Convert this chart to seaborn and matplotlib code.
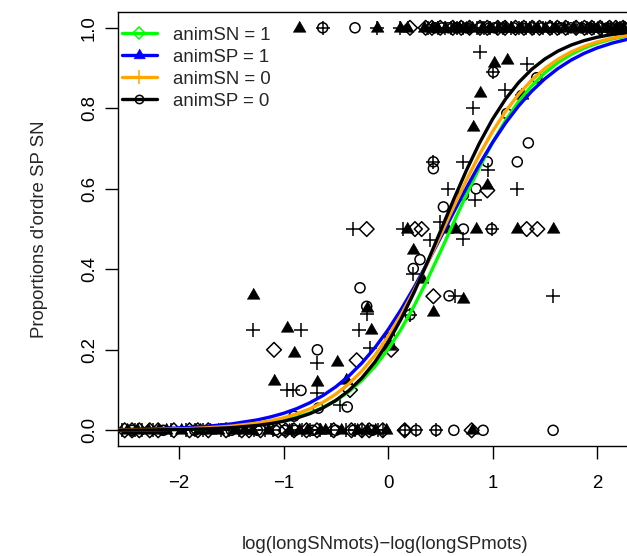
import matplotlib
matplotlib.use("Agg")
import matplotlib.pyplot as plt
from matplotlib.lines import Line2D
import seaborn as sns
import pandas as pd

sns.set_style("ticks")
plt.rcParams['font.family'] = ['Liberation Sans', 'DejaVu Sans']
plt.rcParams['axes.unicode_minus'] = True

# Courbes logistiques
curve_x = [-2.6, -2.25, -2.0, -1.75, -1.5, -1.25, -1.125, -1.0, -0.875, -0.75, -0.625,
           -0.5, -0.375, -0.25, -0.125, 0.0, 0.125, 0.25, 0.375, 0.5, 0.625, 0.75,
           0.875, 1.0, 1.125, 1.25, 1.375, 1.5, 1.625, 1.75, 1.875, 2.0, 2.15, 2.3]
curve_sn1 = [0.0006, 0.0014, 0.0025, 0.0045, 0.0079, 0.0140, 0.0186, 0.0246, 0.0325,
             0.0429, 0.0564, 0.0738, 0.0960, 0.1240, 0.1588, 0.2010, 0.2511, 0.3090,
             0.3734, 0.4427, 0.5144, 0.5854, 0.6530, 0.7150, 0.7699, 0.8168, 0.8560,
             0.8880, 0.9135, 0.9337, 0.9494, 0.9616, 0.9725, 0.9804]
curve_sp1 = [0.0017, 0.0035, 0.0058, 0.0096, 0.0158, 0.0259, 0.0332, 0.0422, 0.0537,
             0.0681, 0.0860, 0.1080, 0.1349, 0.1672, 0.2054, 0.2496, 0.3001, 0.3553,
             0.4151, 0.4773, 0.5403, 0.6021, 0.6608, 0.7148, 0.7635, 0.8060, 0.8425,
             0.8731, 0.8986, 0.9194, 0.9363, 0.9498, 0.9624, 0.9719]
curve_sn0 = [0.0009, 0.0019, 0.0034, 0.0059, 0.0103, 0.0179, 0.0236, 0.0310, 0.0407,
             0.0531, 0.0692, 0.0897, 0.1155, 0.1474, 0.1863, 0.2328, 0.2868, 0.3475,
             0.4136, 0.4831, 0.5533, 0.6213, 0.6849, 0.7422, 0.7923, 0.8348, 0.8700,
             0.8987, 0.9216, 0.9397, 0.9537, 0.9647, 0.9745, 0.9817]
curve_sp0 = [0.0004, 0.0010, 0.0019, 0.0035, 0.0065, 0.0121, 0.0165, 0.0224, 0.0304,
             0.0411, 0.0554, 0.0741, 0.0986, 0.1301, 0.1697, 0.2184, 0.2764, 0.3430,
             0.4164, 0.4938, 0.5714, 0.6457, 0.7135, 0.7729, 0.8231, 0.8641, 0.8969,
             0.9223, 0.9420, 0.9569, 0.9681, 0.9765, 0.9837, 0.9887]

# Points : losanges (animSN = 1)
diam_x = [-0.204, 0.258, 0.322, 1.327, 1.429, -1.091, -0.30, -0.364, 0.03, 0.434, 0.95]
diam_y = [0.5, 0.5, 0.5, 0.5, 0.5, 0.2, 0.174, 0.10, 0.20, 0.333, 0.596]
diam_x0 = [-2.52, -2.45, -2.38, -2.28, -2.2, -2.05, -1.9, -1.82, -1.72, -1.55, -1.4,
           -1.33, -1.22, -1.05, -0.98, -0.9, -0.78, -0.68, -0.52, -0.35, -0.25, -0.18,
           -0.05, 0.16, 0.8]
diam_x1 = [0.21, 0.36, 0.42, 0.5, 0.62, 0.7, 0.78, 0.88, 0.95, 1.05, 1.12, 1.22, 1.3,
           1.38, 1.45, 1.55, 1.62, 1.7, 1.8, 1.88, 1.95, 2.03, 2.12, 2.18, 2.25]

# Points : triangles pleins (animSP = 1)
tri_x = [-1.289, -0.204, -0.964, -0.163, -0.9, -0.491, -1.091, -0.676, -0.4, 0.02,
         0.434, 0.721, 0.242, 0.322, 0.179, 0.56, 0.64, 0.842, 1.231, 1.576, 0.95,
         0.817, 0.88, 1.28, 1.014, 1.136]
tri_y = [0.335, 0.305, 0.253, 0.25, 0.192, 0.17, 0.122, 0.12, 0.125, 0.21,
         0.294, 0.327, 0.447, 0.377, 0.5, 0.5, 0.5, 0.5, 0.5, 0.5, 0.61,
         0.754, 0.838, 0.832, 0.913, 0.92]
tri_x0 = [-2.5, -2.4, -2.3, -2.2, -2.12, -1.98, -1.8, -1.7, -1.63, -1.47, -1.38, -1.3,
          -1.15, -0.95, -0.85, -0.78, -0.65, -0.6, -0.45, -0.3, -0.2, -0.12, -0.02, 0.8]
tri_x1 = [-0.85, -0.108, 0.115, 0.179, 0.34, 0.42, 0.47, 0.55, 0.62, 0.68, 0.75, 0.8,
          0.9, 0.97, 1.05, 1.12, 1.18, 1.27, 1.35, 1.43, 1.5, 1.6, 1.68, 1.77, 1.85,
          1.93, 2.0, 2.1, 2.18, 2.25]

# Points : croix (animSN = 0)
plus_x = [-1.289, -0.833, -0.276, -0.332, -0.204, -0.676, -0.97, -0.906, -0.676,
          -0.46, -0.172, 0.0, 0.21, 0.242, 0.641, 1.576, 0.144, 0.5, 0.402, 0.721,
          0.992, 0.577, 0.833, 0.721, 0.96, 1.237, 0.817, 1.12, 0.88, 1.327, 1.008,
          0.434, 1.28]
plus_y = [0.25, 0.25, 0.25, 0.5, 0.29, 0.167, 0.099, 0.099, 0.092,
          0.062, 0.205, 0.215, 0.287, 0.388, 0.334, 0.334, 0.5, 0.517, 0.472, 0.476,
          0.5, 0.6, 0.571, 0.667, 0.646, 0.6, 0.8, 0.846, 0.94, 0.911, 0.89,
          0.667, 0.832]
plus_x0 = [-2.55, -2.42, -2.35, -2.25, -2.08, -1.93, -1.85, -1.77, -1.6, -1.52, -1.43,
           -1.28, -1.18, -1.1, -0.92, -0.82, -0.75, -0.65, -0.55, -0.4, -0.32, -0.25,
           -0.1, -0.05, 0.16, 0.27, 0.46]
plus_x1 = [-0.625, -0.108, 0.115, 0.38, 0.48, 0.55, 0.6, 0.66, 0.72, 0.78, 0.85, 0.92,
           0.98, 1.04, 1.1, 1.18, 1.25, 1.32, 1.4, 1.48, 1.57, 1.64, 1.72, 1.8, 1.9,
           1.97, 2.05, 2.13, 2.22, 2.27]

# Points : cercles (animSP = 0)
circ_x = [-0.268, -0.204, -0.676, -0.833, -0.667, -0.39, -0.9, 0.02, 0.21, 0.242,
          0.306, 0.584, 0.434, 0.434, 0.53, 0.721, 0.842, 0.95, 1.237, 1.343, 1.136,
          1.28, 1.008, 1.423, 0.992, 0.721]
circ_y = [0.354, 0.308, 0.2, 0.099, 0.055, 0.058, 0.035, 0.23, 0.287, 0.402,
          0.424, 0.334, 0.65, 0.667, 0.555, 0.584, 0.6, 0.667, 0.667, 0.714, 0.787,
          0.832, 0.89, 0.876, 0.5, 0.5]
circ_x0 = [-2.45, -2.15, -1.85, -1.5, -1.25, -1.08, -0.99, -0.89, -0.72, -0.5, -0.33,
           -0.15, 0.16, 0.27, 0.46, 0.63, 0.91, 1.58]
circ_x1 = [-0.625, -0.316, 0.45, 0.52, 0.58, 0.66, 0.75, 0.88, 0.97, 1.02, 1.1, 1.2,
           1.28, 1.38, 1.47, 1.55, 1.65, 1.75, 1.85, 1.93, 2.02, 2.1, 2.2, 2.27]

labels = ['animSN = 1', 'animSP = 1', 'animSN = 0', 'animSP = 0']
colors = ['#00FF00', '#0000FF', '#FFA500', '#000000']
FS = 13.4


def group_df(xm, ym, x0, x1):
    """Rassembler les points d'un groupe"""
    xs = list(xm) + list(x0) + list(x1)
    ys = list(ym) + [0.0] * len(x0) + [1.0] * len(x1)
    return pd.DataFrame({'x': xs, 'y': ys})


tri_marker = [(-1, -0.577), (1, -0.577), (0, 1.155)]

fig = plt.figure(figsize=(6.27, 5.56), dpi=100)
ax = fig.add_axes([118 / 627, (556 - 446.4) / 556, 509 / 627, 434.7 / 556])

# Nuages de points
sns.scatterplot(data=group_df(diam_x, diam_y, diam_x0, diam_x1), x='x', y='y',
                marker='D', s=56, color='black', facecolors='none',
                edgecolor='black', linewidth=1.1, ax=ax, zorder=2)
sns.scatterplot(data=group_df(tri_x, tri_y, tri_x0, tri_x1), x='x', y='y',
                marker=tri_marker, s=112, color='black', edgecolor='black',
                linewidth=0.5, ax=ax, zorder=2)
sns.scatterplot(data=group_df(plus_x, plus_y, plus_x0, plus_x1), x='x', y='y',
                marker='+', s=115, color='black', linewidth=1.1, ax=ax, zorder=2)
sns.scatterplot(data=group_df(circ_x, circ_y, circ_x0, circ_x1), x='x', y='y',
                marker='o', s=52, color='black', facecolors='none',
                edgecolor='black', linewidth=1.1, ax=ax, zorder=2)

# Courbes
curves = pd.DataFrame({
    'x': curve_x * 4,
    'y': curve_sn1 + curve_sp1 + curve_sn0 + curve_sp0,
    'group': [l for l in labels for _ in curve_x],
})
sns.lineplot(data=curves, x='x', y='y', hue='group', hue_order=labels,
             palette=dict(zip(labels, colors)), linewidth=2.4, estimator=None,
             sort=False, legend=False, ax=ax, zorder=3, solid_joinstyle='round')

ax.set_xlim(-2.584, 2.287)
ax.set_ylim(-0.04, 1.04)
ax.set_xticks([-2, -1, 0, 1, 2])
ax.set_xticklabels(['\u22122', '\u22121', '0', '1', '2'])
ax.set_yticks([0.0, 0.2, 0.4, 0.6, 0.8, 1.0])
ax.set_yticklabels(['0.0', '0.2', '0.4', '0.6', '0.8', '1.0'])
ax.tick_params(axis='both', labelsize=FS, length=9.5, width=1.0, color='black',
               labelcolor='black')
ax.tick_params(axis='x', pad=11)
ax.tick_params(axis='y', pad=5)
for lab in ax.get_yticklabels():
    lab.set_rotation(90)
    lab.set_va('center')

for side in ['left', 'bottom', 'top']:
    ax.spines[side].set_linewidth(1.0)
    ax.spines[side].set_color('black')
ax.spines['right'].set_visible(False)

ax.set_xlabel('log(longSNmots)\u2212log(longSPmots)', fontsize=FS)
ax.set_ylabel("Proportions d'ordre SP SN", fontsize=FS)
ax.xaxis.set_label_coords((385 - 118) / 509, -(536 - 446.4) / 434.7)
ax.yaxis.set_label_coords(-(118 - 48) / 509, 0.5)

# Légende
handles = [
    Line2D([], [], color=colors[0], lw=2.4, marker='D', ms=6, mfc='none', mew=1.1),
    Line2D([], [], color=colors[1], lw=2.4, marker=tri_marker, ms=9.5, mew=0.5),
    Line2D([], [], color=colors[2], lw=2.4, marker='+', ms=10, mew=1.1),
    Line2D([], [], color=colors[3], lw=2.4, marker='o', ms=6, mfc='none', mew=1.1),
]
ax.legend(handles, labels, loc='upper left', bbox_to_anchor=(0, 0.974),
          frameon=False, fontsize=FS, handlelength=1.9, handletextpad=0.85,
          labelspacing=0.27, borderpad=0.2, borderaxespad=0)

fig.savefig('out.png', dpi=100)
